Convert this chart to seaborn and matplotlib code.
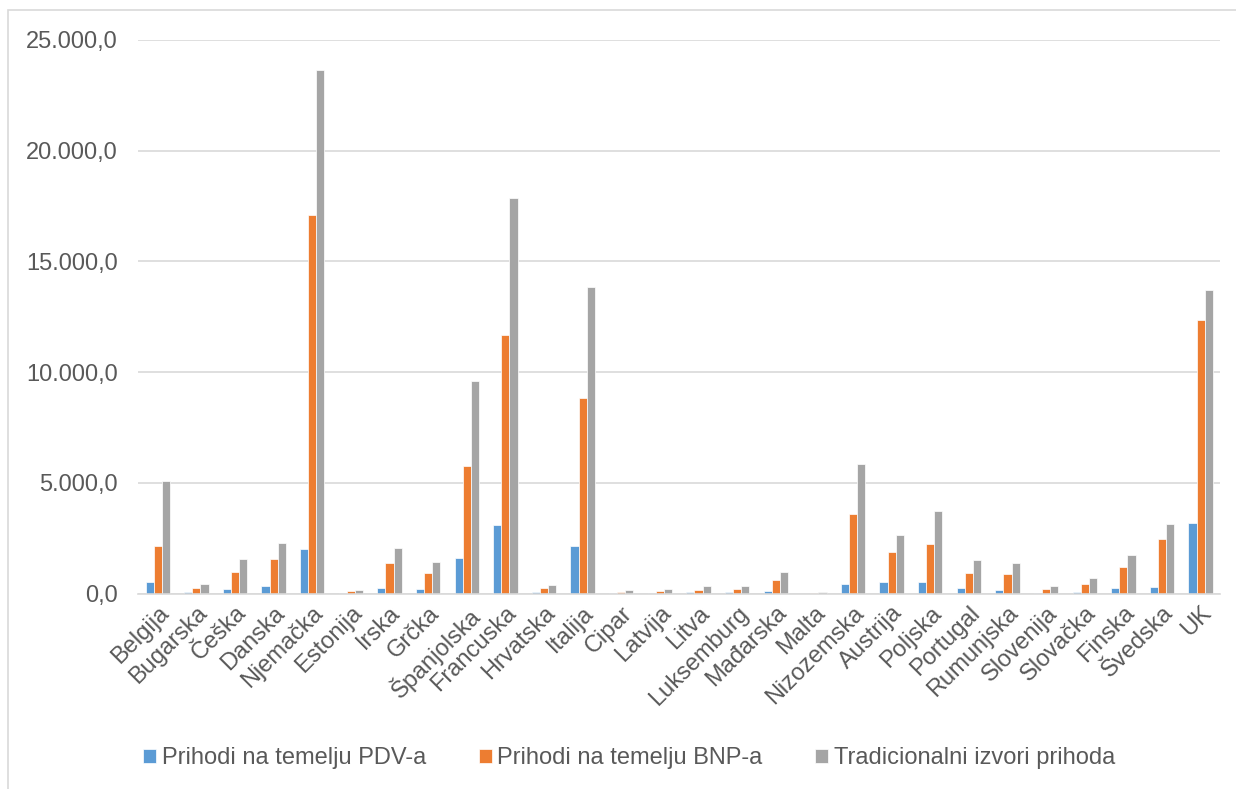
import matplotlib
matplotlib.use("Agg")
import matplotlib.pyplot as plt
import matplotlib.patches as patches
from matplotlib.ticker import FuncFormatter
import seaborn as sns
import pandas as pd

# države (kategorije na x osi)
countries = ["Belgija", "Bugarska", "Češka", "Danska", "Njemačka", "Estonija",
             "Irska", "Grčka", "Španjolska", "Francuska", "Hrvatska", "Italija",
             "Cipar", "Latvija", "Litva", "Luksemburg", "Mađarska", "Malta",
             "Nizozemska", "Austrija", "Poljska", "Portugal", "Rumunjska",
             "Slovenija", "Slovačka", "Finska", "Švedska", "UK"]

# vrijednosti procijenjene sa slike
pdv = [550, 60, 200, 330, 2000, 20, 260, 200, 1620, 3100, 60, 2140,
       20, 30, 70, 70, 140, 10, 460, 510, 540, 280, 190, 50, 100, 260, 310, 3200]
bnp = [2160, 280, 960, 1560, 17100, 110, 1380, 930, 5770, 11700, 260, 8820,
       100, 110, 190, 200, 600, 50, 3580, 1870, 2230, 940, 910, 200, 460, 1190, 2450, 12340]
trad = [5100, 460, 1550, 2270, 23630, 190, 2060, 1410, 9610, 17880, 400, 13860,
        160, 200, 350, 330, 960, 100, 5860, 2650, 3720, 1520, 1370, 350, 690, 1740, 3160, 13720]

series = ["Prihodi na temelju PDV-a", "Prihodi na temelju BNP-a", "Tradicionalni izvori prihoda"]
colors = ["#5B9BD5", "#ED7D31", "#A5A5A5"]

df = pd.DataFrame({"drzava": countries * 3,
                   "serija": [series[0]] * len(countries) + [series[1]] * len(countries) + [series[2]] * len(countries),
                   "iznos": pdv + bnp + trad})

sns.set_style("white")
plt.rcParams["font.family"] = ["Liberation Sans", "DejaVu Sans"]

fig = plt.figure(figsize=(12.36, 7.89), dpi=100)
ax = fig.add_axes([0.112, 0.2475, 0.875, 0.702])

sns.barplot(data=df, x="drzava", y="iznos", hue="serija", palette=colors,
            saturation=1, width=0.63, edgecolor="white", linewidth=0.5, ax=ax, legend=True)

ax.set_ylim(0, 25000)
ax.set_xlim(-0.5, len(countries) - 0.5)
ax.set_yticks(range(0, 25001, 5000))
ax.yaxis.set_major_formatter(FuncFormatter(
    lambda v, p: f"{v:,.1f}".replace(",", "X").replace(".", ",").replace("X", ".")))
ax.grid(axis="y", color="#D9D9D9", linewidth=1.2)
ax.set_axisbelow(True)
for s in ["top", "right", "left"]:
    ax.spines[s].set_visible(False)
ax.spines["bottom"].set_color("#D9D9D9")
ax.spines["bottom"].set_linewidth(1.2)
ax.set_xlabel("")
ax.set_ylabel("")
ax.tick_params(axis="both", length=0, labelsize=17, colors="#595959")
ax.tick_params(axis="y", pad=15)
ax.tick_params(axis="x", pad=6)
plt.setp(ax.get_xticklabels(), rotation=45, ha="right", rotation_mode="anchor")

handles, labels = ax.get_legend_handles_labels()
ax.get_legend().remove()
fig.legend(handles, labels, loc="center", bbox_to_anchor=(0.509, 0.039), ncol=3,
           frameon=False, fontsize=17, handlelength=0.55, handleheight=0.55,
           handletextpad=0.25, columnspacing=2.2, labelcolor="#595959")

# okvir grafikona
fig.patches.append(patches.Rectangle((8 / 1236, -0.05), 1.2, 1.05 - 10 / 789, fill=False,
                                     edgecolor="#D9D9D9", linewidth=1.2,
                                     transform=fig.transFigure, figure=fig))

fig.savefig("out.png", dpi=100)
